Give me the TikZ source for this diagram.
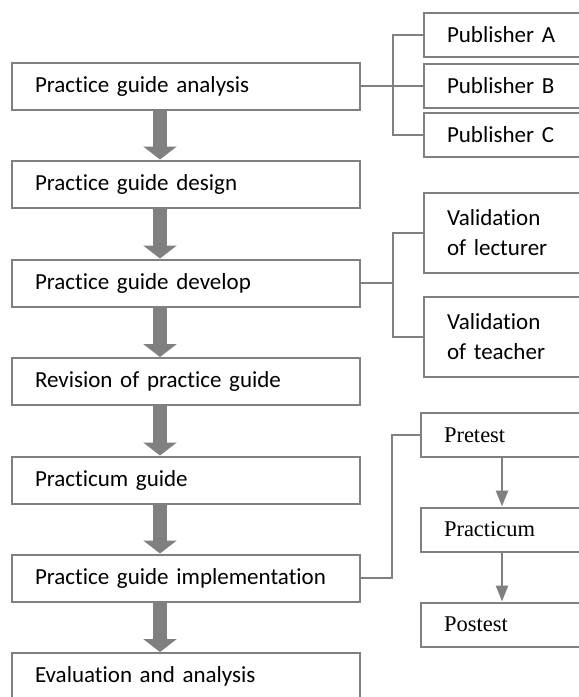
\documentclass[tikz,border=0pt]{standalone}
\usepackage{fontspec}
\setmainfont{Carlito}[Ligatures=NoCommon]
\newfontfamily\testfont{Liberation Serif}
\usetikzlibrary{arrows.meta}

\begin{document}
\begin{tikzpicture}[x=1pt, y=-1pt,
  stage/.style={draw=gray, line width=2pt, text width=302pt, inner xsep=23pt, minimum height=47pt, align=left, font=\fontsize{23}{30}\selectfont},
  side/.style={draw=gray, line width=2pt, text width=113pt, inner xsep=23pt, minimum height=44pt, align=left, font=\fontsize{23}{30}\selectfont},
  test/.style={side, text width=116pt, font=\testfont\fontsize{22.5}{27}\selectfont},
  link/.style={draw=gray, line width=2pt},
  fatarrow/.style={gray, line width=14pt, -{Triangle[width=33pt,length=13pt]}},
  thinarrow/.style={gray, line width=2.5pt, -{Triangle[width=12pt,length=16pt]}}]
\useasboundingbox (0,0) rectangle (579,697);
% main stages
\node[stage] (ana) at (186,86) {Practice guide analysis};
\node[stage] (des) at (186,184) {Practice guide design};
\node[stage] (dev) at (186,283) {Practice guide develop};
\node[stage] (rev) at (186,381.5) {Revision of practice guide};
\node[stage] (pcg) at (186,480) {Practicum guide};
\node[stage] (imp) at (186,578) {Practice guide implementation};
\node[stage] (eva) at (186,676.5) {Evaluation and analysis};
\foreach \a/\b in {ana/des, des/dev, dev/rev, rev/pcg, pcg/imp, imp/eva}
  \draw[fatarrow] (160,0 |- \a.south) -- (160,0 |- \b.north);
% publishers
\node[side] (pubA) at (503.5,35) {Publisher A};
\node[side] (pubB) at (503.5,86) {Publisher B};
\node[side] (pubC) at (503.5,135) {Publisher C};
\coordinate (pubj) at (393,86);
\draw[link] (ana.east) -- (pubB.west);
\draw[link] (pubA.west) -| (pubj) |- (pubC.west);
% validation
\node[side, minimum height=80pt] (vall) at (503.5,233) {Validation\\of lecturer};
\node[side, minimum height=80pt] (valt) at (503.5,336.5) {Validation\\of teacher};
\coordinate (valj) at (393,283);
\draw[link] (dev.east) -- (valj);
\draw[link] (vall.west) -| (valj) |- (valt.west);
% implementation
\node[test] (pre) at (502,435) {Pretest};
\node[test] (pra) at (502,529.5) {Practicum};
\node[test] (pos) at (502,624.5) {Postest};
\coordinate (prej) at (392,578);
\draw[link] (imp.east) -- (prej) |- (pre.west);
\draw[thinarrow] (pre) -- (pra);
\draw[thinarrow] (pra) -- (pos);
\end{tikzpicture}
\end{document}
